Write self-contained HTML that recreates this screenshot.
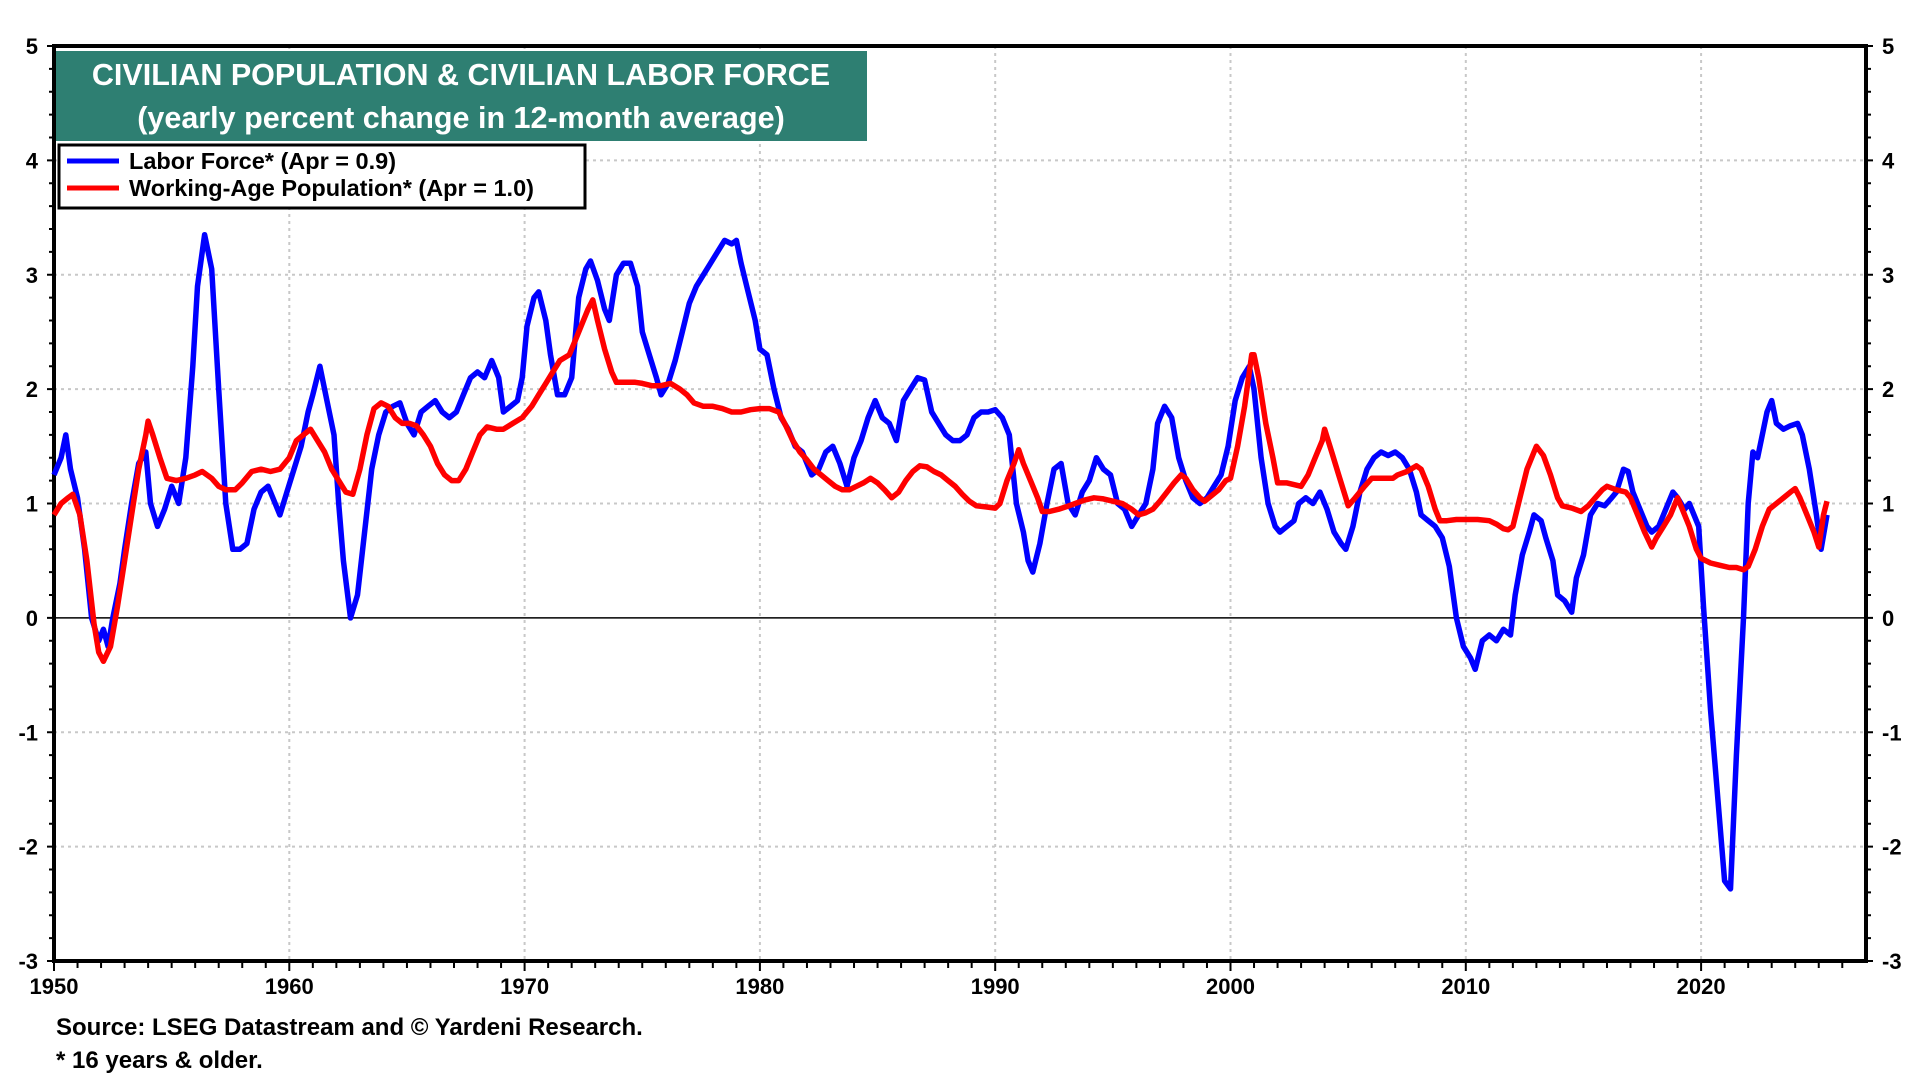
<!DOCTYPE html>
<html><head><meta charset="utf-8"><style>
html,body{margin:0;padding:0;background:#fff;}
body{width:1920px;height:1080px;overflow:hidden;font-family:"Liberation Sans",Arial,sans-serif;}
svg text{font-family:"Liberation Sans",Arial,sans-serif;font-weight:bold;}
</style></head><body>
<svg id="chart" width="1920" height="1080" viewBox="0 0 1920 1080" xmlns="http://www.w3.org/2000/svg">
<g id="grid"></g>
<g id="axes"></g>
<g id="series"></g>
<rect x="56" y="51" width="811" height="90" fill="#2e7f72"/>
<text x="461" y="85" fill="#fff" font-size="30.5" text-anchor="middle">CIVILIAN POPULATION &amp; CIVILIAN LABOR FORCE</text>
<text x="461" y="128" fill="#fff" font-size="30.5" text-anchor="middle">(yearly percent change in 12-month average)</text>
<g>
<rect x="59" y="145" width="526" height="63" fill="#fff" stroke="#000" stroke-width="3"/>
<line x1="67" y1="161" x2="119" y2="161" stroke="#0000ff" stroke-width="5"/>
<text x="129" y="169" font-size="23.5">Labor Force* (Apr = 0.9)</text>
<line x1="67" y1="188" x2="119" y2="188" stroke="#ff0000" stroke-width="5"/>
<text x="129" y="196" font-size="23.5">Working-Age Population* (Apr = 1.0)</text>
</g>
<text x="56" y="1035" font-size="24">Source: LSEG Datastream and © Yardeni Research.</text>
<text x="56" y="1068" font-size="24">* 16 years &amp; older.</text>
</svg>
<script>
const yTicks = [5,4,3,2,1,0,-1,-2,-3];
const xTicks = [1950,1960,1970,1980,1990,2000,2010,2020];
const laborYears = [1950.0,1950.3,1950.5,1950.7,1951.0,1951.3,1951.6,1951.9,1952.1,1952.3,1952.5,1952.8,1953.0,1953.3,1953.6,1953.9,1954.1,1954.4,1954.7,1955.0,1955.3,1955.6,1955.9,1956.1,1956.4,1956.7,1957.0,1957.3,1957.6,1957.9,1958.2,1958.5,1958.8,1959.1,1959.4,1959.6,1959.9,1960.2,1960.5,1960.8,1961.0,1961.3,1961.6,1961.9,1962.1,1962.3,1962.6,1962.9,1963.2,1963.5,1963.8,1964.1,1964.4,1964.7,1965.0,1965.3,1965.6,1965.9,1966.2,1966.5,1966.8,1967.1,1967.4,1967.7,1968.0,1968.3,1968.6,1968.9,1969.1,1969.4,1969.7,1969.9,1970.1,1970.4,1970.6,1970.9,1971.1,1971.4,1971.7,1972.0,1972.3,1972.6,1972.8,1973.1,1973.4,1973.6,1973.9,1974.2,1974.5,1974.8,1975.0,1975.3,1975.6,1975.8,1976.1,1976.4,1976.7,1977.0,1977.3,1977.6,1977.9,1978.2,1978.5,1978.8,1979.0,1979.2,1979.5,1979.8,1980.0,1980.3,1980.6,1980.9,1981.2,1981.5,1981.8,1982.0,1982.2,1982.5,1982.8,1983.1,1983.4,1983.7,1984.0,1984.3,1984.6,1984.9,1985.2,1985.5,1985.8,1986.1,1986.4,1986.7,1987.0,1987.3,1987.6,1987.9,1988.2,1988.5,1988.8,1989.1,1989.4,1989.7,1990.0,1990.3,1990.6,1990.9,1991.2,1991.4,1991.6,1991.9,1992.2,1992.5,1992.8,1993.1,1993.4,1993.7,1994.0,1994.3,1994.6,1994.9,1995.2,1995.5,1995.8,1996.1,1996.4,1996.7,1996.9,1997.2,1997.5,1997.8,1998.1,1998.4,1998.7,1999.0,1999.3,1999.6,1999.9,2000.2,2000.5,2000.8,2001.0,2001.3,2001.6,2001.9,2002.1,2002.4,2002.7,2002.9,2003.2,2003.5,2003.8,2004.1,2004.4,2004.7,2004.9,2005.2,2005.5,2005.8,2006.1,2006.4,2006.7,2007.0,2007.3,2007.6,2007.9,2008.1,2008.4,2008.7,2009.0,2009.3,2009.6,2009.9,2010.2,2010.4,2010.7,2011.0,2011.3,2011.6,2011.9,2012.1,2012.4,2012.7,2012.9,2013.2,2013.4,2013.7,2013.9,2014.2,2014.5,2014.7,2015.0,2015.3,2015.6,2015.9,2016.2,2016.4,2016.7,2016.9,2017.1,2017.4,2017.7,2017.9,2018.2,2018.5,2018.8,2019.0,2019.3,2019.5,2019.7,2019.9,2020.1,2020.4,2020.8,2021.0,2021.25,2021.5,2021.8,2022.0,2022.2,2022.4,2022.6,2022.8,2023.0,2023.2,2023.5,2023.8,2024.1,2024.3,2024.6,2024.9,2025.1,2025.35];
const laborValues = [1.25,1.4,1.6,1.3,1.05,0.6,0.0,-0.2,-0.1,-0.25,0.0,0.3,0.6,1.0,1.35,1.45,1.0,0.8,0.95,1.15,1.0,1.4,2.2,2.9,3.35,3.05,2.0,1.0,0.6,0.6,0.65,0.95,1.1,1.15,1.0,0.9,1.1,1.3,1.5,1.8,1.95,2.2,1.9,1.6,1.0,0.5,0.0,0.2,0.75,1.3,1.6,1.8,1.85,1.88,1.7,1.6,1.8,1.85,1.9,1.8,1.75,1.8,1.95,2.1,2.15,2.1,2.25,2.1,1.8,1.85,1.9,2.1,2.55,2.8,2.85,2.6,2.3,1.95,1.95,2.1,2.8,3.05,3.12,2.95,2.7,2.6,3.0,3.1,3.1,2.9,2.5,2.3,2.1,1.95,2.05,2.25,2.5,2.75,2.9,3.0,3.1,3.2,3.3,3.27,3.3,3.1,2.85,2.6,2.35,2.3,2.0,1.75,1.65,1.5,1.45,1.35,1.25,1.3,1.45,1.5,1.35,1.15,1.4,1.55,1.75,1.9,1.75,1.7,1.55,1.9,2.0,2.1,2.08,1.8,1.7,1.6,1.55,1.55,1.6,1.75,1.8,1.8,1.82,1.75,1.6,1.0,0.75,0.5,0.4,0.65,1.0,1.3,1.35,1.0,0.9,1.1,1.2,1.4,1.3,1.25,1.0,0.95,0.8,0.9,1.0,1.3,1.7,1.85,1.75,1.4,1.2,1.05,1.0,1.05,1.15,1.25,1.5,1.9,2.1,2.2,2.0,1.4,1.0,0.8,0.75,0.8,0.85,1.0,1.05,1.0,1.1,0.95,0.75,0.65,0.6,0.8,1.1,1.3,1.4,1.45,1.42,1.45,1.4,1.3,1.1,0.9,0.85,0.8,0.7,0.45,0.0,-0.25,-0.35,-0.45,-0.2,-0.15,-0.2,-0.1,-0.15,0.2,0.55,0.75,0.9,0.85,0.7,0.5,0.2,0.15,0.05,0.35,0.55,0.9,1.0,0.98,1.05,1.1,1.3,1.28,1.1,0.95,0.8,0.75,0.8,0.95,1.1,1.05,0.95,1.0,0.9,0.8,0.1,-0.8,-1.8,-2.3,-2.37,-1.2,0.0,1.0,1.45,1.4,1.6,1.8,1.9,1.7,1.65,1.68,1.7,1.6,1.3,0.9,0.6,0.9];
const popYears = [1950.0,1950.3,1950.6,1950.8,1951.1,1951.4,1951.7,1951.9,1952.1,1952.4,1952.7,1953.0,1953.3,1953.6,1953.9,1954.0,1954.2,1954.5,1954.8,1955.2,1955.6,1956.0,1956.3,1956.7,1957.0,1957.3,1957.7,1958.0,1958.4,1958.8,1959.2,1959.6,1960.0,1960.3,1960.6,1960.9,1961.2,1961.5,1961.8,1962.1,1962.4,1962.7,1963.0,1963.3,1963.6,1963.9,1964.2,1964.5,1964.8,1965.1,1965.4,1965.7,1966.0,1966.3,1966.6,1966.9,1967.2,1967.5,1967.8,1968.1,1968.4,1968.8,1969.1,1969.5,1969.9,1970.3,1970.6,1970.9,1971.2,1971.5,1971.9,1972.2,1972.5,1972.7,1972.9,1973.1,1973.4,1973.7,1973.9,1974.3,1974.7,1975.0,1975.4,1975.8,1976.2,1976.6,1976.9,1977.2,1977.6,1978.0,1978.4,1978.8,1979.2,1979.6,1980.0,1980.4,1980.8,1981.1,1981.4,1981.7,1982.0,1982.3,1982.6,1982.9,1983.2,1983.5,1983.8,1984.1,1984.4,1984.7,1985.0,1985.3,1985.6,1985.9,1986.2,1986.5,1986.8,1987.1,1987.4,1987.7,1988.0,1988.3,1988.6,1988.9,1989.2,1989.6,1990.0,1990.2,1990.5,1990.8,1991.0,1991.2,1991.5,1991.8,1992.0,1992.3,1992.7,1993.0,1993.4,1993.8,1994.2,1994.6,1995.0,1995.4,1995.8,1996.1,1996.4,1996.7,1997.0,1997.3,1997.6,1997.9,1998.1,1998.4,1998.7,1998.9,1999.2,1999.5,1999.8,2000.0,2000.3,2000.6,2000.9,2001.0,2001.2,2001.5,2001.8,2002.0,2002.4,2002.8,2003.0,2003.3,2003.6,2003.9,2004.0,2004.3,2004.6,2004.9,2005.0,2005.3,2005.7,2006.0,2006.5,2006.9,2007.1,2007.5,2007.9,2008.1,2008.4,2008.7,2008.9,2009.2,2009.6,2010.0,2010.5,2011.0,2011.3,2011.6,2011.8,2012.0,2012.3,2012.6,2012.9,2013.0,2013.3,2013.6,2013.9,2014.1,2014.5,2014.9,2015.2,2015.5,2015.8,2016.0,2016.4,2016.8,2017.0,2017.3,2017.6,2017.9,2018.1,2018.4,2018.7,2018.9,2019.0,2019.2,2019.5,2019.8,2020.0,2020.4,2020.8,2021.2,2021.5,2021.8,2022.0,2022.3,2022.6,2022.9,2023.2,2023.5,2023.8,2024.0,2024.2,2024.5,2024.8,2025.0,2025.2,2025.35];
const popValues = [0.9,1.0,1.05,1.08,0.9,0.5,-0.05,-0.3,-0.38,-0.25,0.1,0.5,0.9,1.3,1.6,1.72,1.6,1.4,1.22,1.2,1.22,1.25,1.28,1.22,1.15,1.12,1.12,1.18,1.28,1.3,1.28,1.3,1.4,1.55,1.6,1.65,1.55,1.45,1.3,1.2,1.1,1.08,1.3,1.6,1.83,1.88,1.85,1.75,1.7,1.7,1.68,1.6,1.5,1.35,1.25,1.2,1.2,1.3,1.45,1.6,1.67,1.65,1.65,1.7,1.75,1.85,1.95,2.05,2.15,2.25,2.3,2.45,2.6,2.7,2.78,2.6,2.35,2.15,2.06,2.06,2.06,2.05,2.03,2.03,2.05,2.0,1.95,1.88,1.85,1.85,1.83,1.8,1.8,1.82,1.83,1.83,1.8,1.68,1.55,1.45,1.38,1.3,1.25,1.2,1.15,1.12,1.12,1.15,1.18,1.22,1.18,1.12,1.05,1.1,1.2,1.28,1.33,1.32,1.28,1.25,1.2,1.15,1.08,1.02,0.98,0.97,0.96,1.0,1.2,1.35,1.47,1.35,1.2,1.05,0.93,0.93,0.95,0.97,1.0,1.03,1.05,1.04,1.02,1.0,0.95,0.9,0.92,0.95,1.02,1.1,1.18,1.25,1.22,1.12,1.05,1.02,1.07,1.12,1.2,1.22,1.5,1.85,2.3,2.3,2.1,1.7,1.4,1.18,1.18,1.16,1.15,1.25,1.4,1.55,1.65,1.45,1.25,1.05,0.98,1.05,1.15,1.22,1.22,1.22,1.25,1.28,1.33,1.3,1.15,0.95,0.85,0.85,0.86,0.86,0.86,0.85,0.82,0.78,0.77,0.8,1.05,1.3,1.45,1.5,1.42,1.25,1.05,0.98,0.96,0.93,0.98,1.05,1.12,1.15,1.12,1.1,1.05,0.9,0.75,0.62,0.7,0.8,0.9,1.0,1.05,0.95,0.8,0.6,0.52,0.48,0.46,0.44,0.44,0.42,0.45,0.6,0.8,0.95,1.0,1.05,1.1,1.13,1.05,0.9,0.75,0.62,0.9,1.02];

const NS='http://www.w3.org/2000/svg';
const L=54,R=1866,T=46,B=961,yMin=-3,yMax=5,x0=1950,xPerYear=23.53;
function xs(v){return L+(v-x0)*xPerYear;}
function ys(v){return B-(v-yMin)*(B-T)/(yMax-yMin);}
function mk(tag,attrs,parent){const e=document.createElementNS(NS,tag);for(const k in attrs)e.setAttribute(k,attrs[k]);parent.appendChild(e);return e;}
const grid=document.getElementById('grid'),axes=document.getElementById('axes'),series=document.getElementById('series');
yTicks.forEach(v=>{
  if(v!==yMin&&v!==yMax&&v!==0){
    const g=mk('line',{x1:L,x2:R,y1:ys(v),y2:ys(v),stroke:'#c8c8c8','stroke-width':2,'stroke-dasharray':'3,4'},grid);
    
    
  }
  const tl=mk('text',{x:L-16,y:ys(v)+8,'font-size':22,'text-anchor':'end'},axes);tl.textContent=v;
  
  
  const tr=mk('text',{x:R+16,y:ys(v)+8,'font-size':22,'text-anchor':'start'},axes);tr.textContent=v;
  
  
});
for(let v=yMin;v<=yMax+0.001;v+=0.2){
  const major=Math.abs(v-Math.round(v))<0.01;const len=major?7:5;
  mk('line',{x1:L-len,x2:L,y1:ys(v),y2:ys(v),stroke:'#000','stroke-width':2},axes);
  mk('line',{x1:R,x2:R+len,y1:ys(v),y2:ys(v),stroke:'#000','stroke-width':2},axes);
}
xTicks.forEach(v=>{
  if(v!==x0){
    const g=mk('line',{x1:xs(v),x2:xs(v),y1:T,y2:B,stroke:'#c8c8c8','stroke-width':2,'stroke-dasharray':'3,4'},grid);
    
    
  }
  const t=mk('text',{x:xs(v),y:B+33,'font-size':22,'text-anchor':'middle'},axes);t.textContent=v;
  
  
});
for(let yr=1950;yr<=2026;yr++){
  const major=yr%10===0;
  mk('line',{x1:xs(yr),x2:xs(yr),y1:B,y2:B+(major?10:7),stroke:'#000','stroke-width':2},axes);
}
const zl=mk('line',{x1:L,x2:R,y1:ys(0),y2:ys(0),stroke:'#000','stroke-width':1.5},axes);


const fr=mk('rect',{x:L,y:T,width:R-L,height:B-T,fill:'none',stroke:'#000','stroke-width':4},axes);


function path(xsArr,vals){return xsArr.map((x,i)=>(i?'L':'M')+xs(x).toFixed(1)+','+ys(vals[i]).toFixed(1)).join(' ');}
const pp=mk('path',{d:path(popYears,popValues),fill:'none',stroke:'#ff0000','stroke-width':5.5,'stroke-linejoin':'round'},series);


const lp=mk('path',{d:path(laborYears,laborValues),fill:'none',stroke:'#0000ff','stroke-width':5.5,'stroke-linejoin':'round'},series);


series.appendChild(pp);
</script>
</body></html>
